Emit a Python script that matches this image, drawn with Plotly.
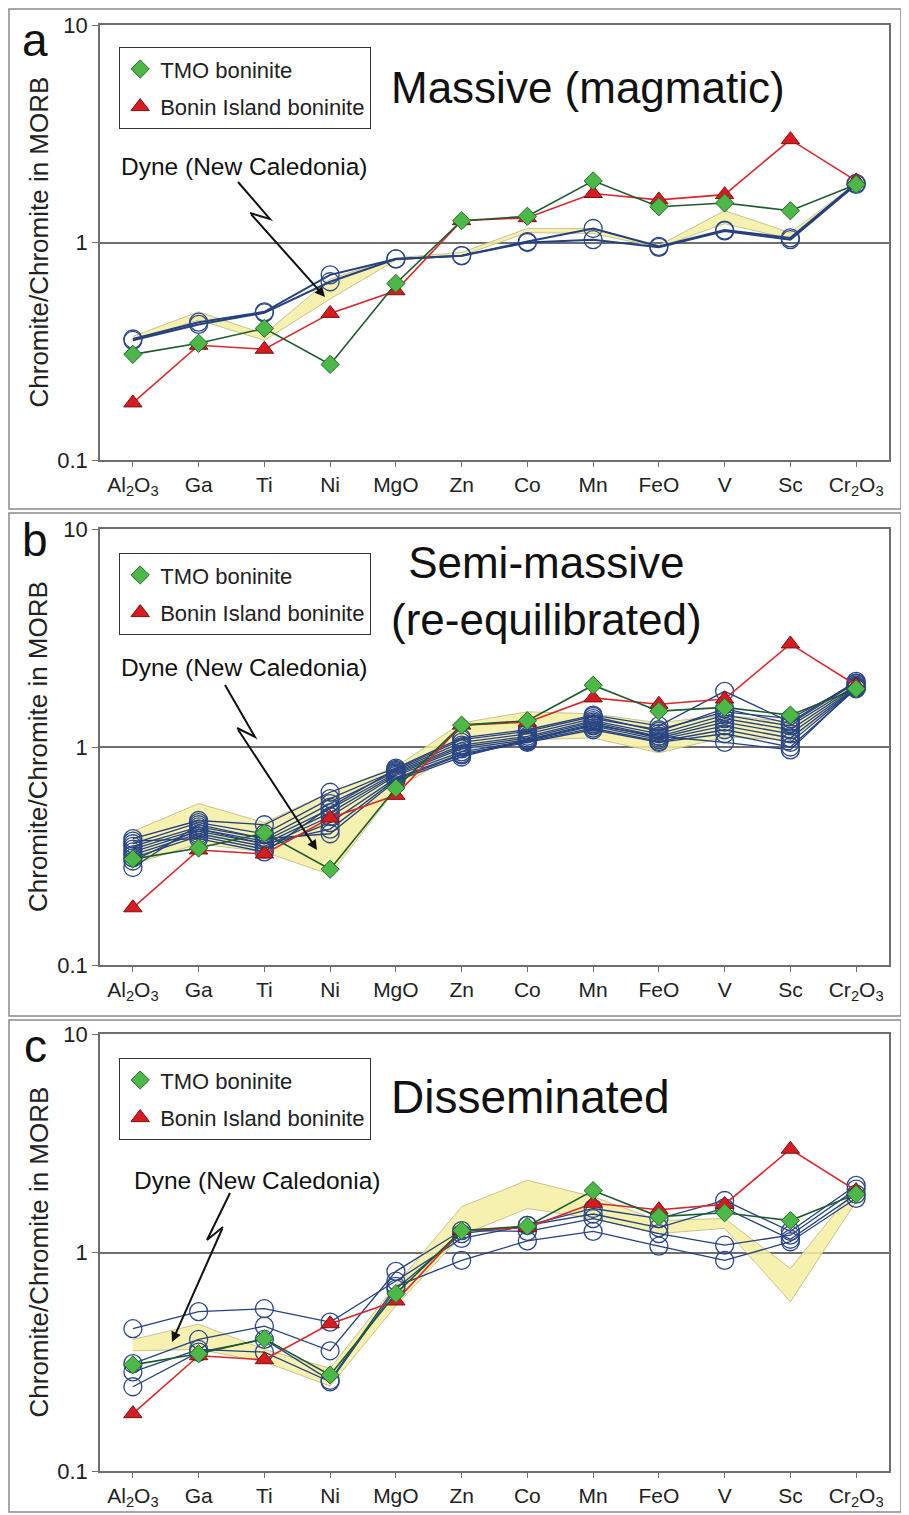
import plotly.graph_objects as go

# ---------------- data ----------------
categories = ["Al2O3", "Ga", "Ti", "Ni", "MgO", "Zn", "Co", "Mn", "FeO", "V", "Sc", "Cr2O3"]
tick_labels = ["Al<sub>2</sub>O<sub>3</sub>", "Ga", "Ti", "Ni", "MgO", "Zn", "Co", "Mn",
               "FeO", "V", "Sc", "Cr<sub>2</sub>O<sub>3</sub>"]

tmo_boninite = [0.306, 0.344, 0.403, 0.275, 0.648, 1.26, 1.32, 1.92, 1.46, 1.52, 1.40, 1.85]
bonin_boninite = [0.183, 0.337, 0.323, 0.472, 0.60, 1.26, 1.30, 1.68, 1.57, 1.66, 2.97, 1.92]

# Panel a - massive (magmatic) chromitites
samples_a = [
    [0.36, 0.43, 0.48, 0.71, 0.84, 0.87, 1.01, 1.16, 0.96, 1.14, 1.05, 1.87],
    [0.355, 0.42, 0.475, 0.66, 0.84, 0.87, 1.00, 1.03, 0.95, 1.13, 1.03, 1.85],
]
dyne_a_upper = [0.37, 0.48, 0.38, 0.68, 0.85, 0.90, 1.16, 1.16, 0.97, 1.40, 1.11, 1.87]
dyne_a_lower = [0.355, 0.44, 0.355, 0.55, 0.83, 0.87, 1.11, 1.10, 0.95, 1.22, 1.04, 1.84]

# Panel b - semi-massive (re-equilibrated) chromitites
samples_b = [
    [0.38, 0.46, 0.44, 0.62, 0.80, 1.10, 1.20, 1.40, 1.25, 1.80, 1.30, 2.00],
    [0.36, 0.45, 0.40, 0.58, 0.78, 1.05, 1.15, 1.35, 1.20, 1.45, 1.35, 1.95],
    [0.35, 0.43, 0.38, 0.55, 0.77, 1.02, 1.12, 1.32, 1.15, 1.40, 1.25, 1.92],
    [0.34, 0.42, 0.37, 0.52, 0.76, 1.00, 1.10, 1.30, 1.12, 1.35, 1.20, 1.90],
    [0.33, 0.41, 0.36, 0.50, 0.75, 0.98, 1.08, 1.28, 1.10, 1.30, 1.15, 1.88],
    [0.32, 0.40, 0.35, 0.48, 0.74, 0.95, 1.07, 1.25, 1.08, 1.25, 1.10, 1.87],
    [0.31, 0.39, 0.34, 0.45, 0.72, 0.93, 1.06, 1.22, 1.06, 1.20, 1.05, 1.86],
    [0.30, 0.42, 0.36, 0.42, 0.71, 0.92, 1.05, 1.20, 1.05, 1.15, 1.00, 1.85],
    [0.28, 0.44, 0.38, 0.40, 0.70, 0.90, 1.08, 1.26, 1.12, 1.05, 0.97, 1.88],
    [0.37, 0.38, 0.33, 0.53, 0.79, 1.08, 1.18, 1.38, 1.18, 1.50, 1.28, 1.97],
]
dyne_b_upper = [0.41, 0.55, 0.45, 0.62, 0.81, 1.29, 1.45, 1.42, 1.29, 1.40, 1.30, 2.00]
dyne_b_lower = [0.29, 0.36, 0.33, 0.26, 0.64, 0.97, 1.08, 1.10, 0.94, 1.11, 1.08, 1.85]

# Panel c - disseminated chromitites
samples_c = [
    [0.448, 0.536, 0.553, 0.48, 0.74, 1.16, 1.33, 1.59, 1.43, 1.73, 1.25, 2.03],
    [0.31, 0.40, 0.46, 0.355, 0.82, 1.26, 1.25, 1.43, 1.22, 1.08, 1.20, 1.95],
    [0.284, 0.36, 0.35, 0.256, 0.68, 1.22, 1.33, 1.50, 1.30, 1.60, 1.15, 1.85],
    [0.243, 0.35, 0.40, 0.26, 0.70, 0.92, 1.13, 1.25, 1.07, 0.92, 1.12, 1.77],
]
dyne_c_upper = [0.40, 0.47, 0.36, 0.295, 0.71, 1.62, 2.14, 1.80, 1.40, 1.43, 0.845, 2.00]
dyne_c_lower = [0.355, 0.36, 0.316, 0.245, 0.57, 1.20, 1.59, 1.43, 1.22, 1.29, 0.595, 1.71]

panel_titles = ["Massive (magmatic)", "Semi-massive<br>(re-equilibrated)", "Disseminated"]
panel_letters = ["a", "b", "c"]
legend_names = ["TMO boninite", "Bonin Island boninite"]
dyne_label = "Dyne (New Caledonia)"
y_title = "Chromite/Chromite in MORB"

# ---------------- styling ----------------
W, H = 909, 1515
OFF = 8  # page body offset compensation
FONT = "Liberation Sans, Arial, Helvetica, sans-serif"
BLUE = "#2b4788"
BLUE_LINE = "#24407f"
GREEN_FILL = "#4cb848"
GREEN_EDGE = "#2a6a2a"
GREEN_LINE = "#1e5a2c"
RED_FILL = "#d81b20"
RED_EDGE = "#7a1212"
RED_LINE = "#d9282d"
BAND_FILL = "rgba(245,238,160,0.85)"
BAND_EDGE = "#c8c390"
AXIS_GREY = "#6e6e6e"


def px(x):
    return (x - OFF) / W


def py(y):
    return 1 - (y - OFF) / H


x_domain = [px(100), px(889)]
y_domains = [
    [py(460), py(25)],
    [py(965), py(529)],
    [py(1471), py(1034)],
]

panels = [
    (samples_a, dyne_a_upper, dyne_a_lower),
    (samples_b, dyne_b_upper, dyne_b_lower),
    (samples_c, dyne_c_upper, dyne_c_lower),
]

fig = go.Figure()

for i, (samples, up, lo) in enumerate(panels):
    xa = "x" if i == 0 else f"x{i + 1}"
    ya = "y" if i == 0 else f"y{i + 1}"
    leg = "legend" if i == 0 else f"legend{i + 1}"
    lw = 2.0 if i == 0 else 1.3
    # Dyne field band
    fig.add_trace(go.Scatter(
        x=categories + categories[::-1], y=up + lo[::-1],
        mode="lines", fill="toself", fillcolor=BAND_FILL,
        line=dict(color=BAND_EDGE, width=1), showlegend=False,
        xaxis=xa, yaxis=ya, hoverinfo="skip"))
    # chromitite samples
    for s in samples:
        fig.add_trace(go.Scatter(
            x=categories, y=s, mode="lines+markers",
            line=dict(color=BLUE_LINE, width=lw),
            marker=dict(symbol="circle-open", size=18, color=BLUE, line=dict(width=1.3)),
            showlegend=False, xaxis=xa, yaxis=ya))
    # Bonin Island boninite
    fig.add_trace(go.Scatter(
        x=categories, y=bonin_boninite, mode="lines+markers",
        line=dict(color=RED_LINE, width=1.6),
        marker=dict(symbol="triangle-up", size=16, color=RED_FILL, line=dict(color=RED_EDGE, width=1)),
        showlegend=False, xaxis=xa, yaxis=ya))
    # TMO boninite
    fig.add_trace(go.Scatter(
        x=categories, y=tmo_boninite, mode="lines+markers",
        line=dict(color=GREEN_LINE, width=1.6),
        marker=dict(symbol="diamond", size=14, color=GREEN_FILL, line=dict(color=GREEN_EDGE, width=1)),
        showlegend=False, xaxis=xa, yaxis=ya))
    # legend entries (markers only)
    fig.add_trace(go.Scatter(
        x=[None], y=[None], mode="markers", name=legend_names[0],
        marker=dict(symbol="diamond", size=14, color=GREEN_FILL, line=dict(color=GREEN_EDGE, width=1)),
        legend=leg, legendgroup=f"g{i}a", xaxis=xa, yaxis=ya))
    fig.add_trace(go.Scatter(
        x=[None], y=[None], mode="markers", name=legend_names[1],
        marker=dict(symbol="triangle-up", size=16, color=RED_FILL, line=dict(color=RED_EDGE, width=1)),
        legend=leg, legendgroup=f"g{i}b", xaxis=xa, yaxis=ya))

layout = dict(
    width=W, height=H,
    margin=dict(l=0, r=0, t=0, b=0, autoexpand=False),
    paper_bgcolor="white", plot_bgcolor="white",
    font=dict(family=FONT, size=21, color="#222222"),
    showlegend=True,
)

for i in range(3):
    xk = "xaxis" if i == 0 else f"xaxis{i + 1}"
    yk = "yaxis" if i == 0 else f"yaxis{i + 1}"
    ya = "y" if i == 0 else f"y{i + 1}"
    xa = "x" if i == 0 else f"x{i + 1}"
    layout[xk] = dict(
        domain=x_domain, anchor=ya, type="category", automargin=False,
        categoryorder="array", categoryarray=categories,
        range=[-0.5, 11.5], tickmode="array", tickvals=categories, ticktext=tick_labels,
        ticks="outside", ticklen=5, tickwidth=1.2, tickcolor=AXIS_GREY,
        showline=True, linecolor=AXIS_GREY, linewidth=1.5, mirror=True,
        showgrid=False, zeroline=False, fixedrange=True,
        tickfont=dict(size=21, family=FONT, color="#222222"),
    )
    layout[yk] = dict(
        domain=y_domains[i], anchor=xa, type="log", range=[-1, 1], automargin=False,
        tickmode="array", tickvals=[0.1, 1, 10], ticktext=["0.1", "1", "10"],
        ticks="outside", ticklen=6, tickwidth=1.2, tickcolor=AXIS_GREY,
        showline=True, linecolor=AXIS_GREY, linewidth=1.5, mirror=True,
        showgrid=True, gridcolor=AXIS_GREY, gridwidth=1.5, zeroline=False, fixedrange=True,
        tickfont=dict(size=22, family=FONT, color="#222222"),
    )

legend_tops = [47, 553, 1058]
for i in range(3):
    lk = "legend" if i == 0 else f"legend{i + 1}"
    layout[lk] = dict(
        x=px(119), y=py(legend_tops[i]), xanchor="left", yanchor="top",
        bordercolor="#333333", borderwidth=1.2, bgcolor="white",
        font=dict(size=22, family=FONT, color="#222222"),
        traceorder="grouped", tracegroupgap=6, itemsizing="trace",
    )

fig.update_layout(**layout)

# panel frames
frames = [(9, 509), (513, 1016), (1020, 1512)]
for y0, y1 in frames:
    fig.add_shape(type="rect", xref="paper", yref="paper",
                  x0=px(9), x1=px(901), y0=py(y1), y1=py(y0),
                  line=dict(color="#8a8a8a", width=1.5), layer="below")


def label(x, y, text, size, angle=0, color="#111111"):
    fig.add_annotation(xref="paper", yref="paper", x=px(x), y=py(y),
                       xanchor="center", yanchor="middle",
                       text=text, showarrow=False, textangle=angle,
                       font=dict(size=size, family=FONT, color=color))


# panel letters
letter_y = [40, 540, 1046]
for i in range(3):
    label(35, letter_y[i], panel_letters[i], 46)

# y-axis titles
for i in range(3):
    yc = (1 - (y_domains[i][0] + y_domains[i][1]) / 2) * H + OFF
    label(38, yc, y_title, 26, angle=-90, color="#222222")

# panel titles
label(588, 87, panel_titles[0], 44)
label(546, 591, panel_titles[1], 44)
label(530, 1097, panel_titles[2], 46)

# Dyne labels
dyne_label_pos = [(244, 167), (244, 668), (257, 1180)]
for (x, y) in dyne_label_pos:
    label(x, y, dyne_label, 24.5)

# lightning arrows: start, bend1, bend2, tip (pixel positions)
arrows = [
    [(238, 182), (270, 219), (250, 213), (325, 297)],
    [(225, 685), (255, 737), (237, 728), (317, 850)],
    [(230, 1193), (207, 1240), (223, 1227), (172, 1342)],
]
for pts in arrows:
    (x0, y0), (x1, y1), (x2, y2), (xt, yt) = pts
    path = f"M {px(x0)},{py(y0)} L {px(x1)},{py(y1)} L {px(x2)},{py(y2)}"
    fig.add_shape(type="path", xref="paper", yref="paper", path=path,
                  line=dict(color="#111111", width=2))
    fig.add_annotation(xref="paper", yref="paper", x=px(xt), y=py(yt),
                       ax=x2 - xt, ay=y2 - yt, text="", showarrow=True,
                       arrowhead=2, arrowsize=1, arrowwidth=2, arrowcolor="#111111",
                       standoff=0)

fig.write_html("out.html")
